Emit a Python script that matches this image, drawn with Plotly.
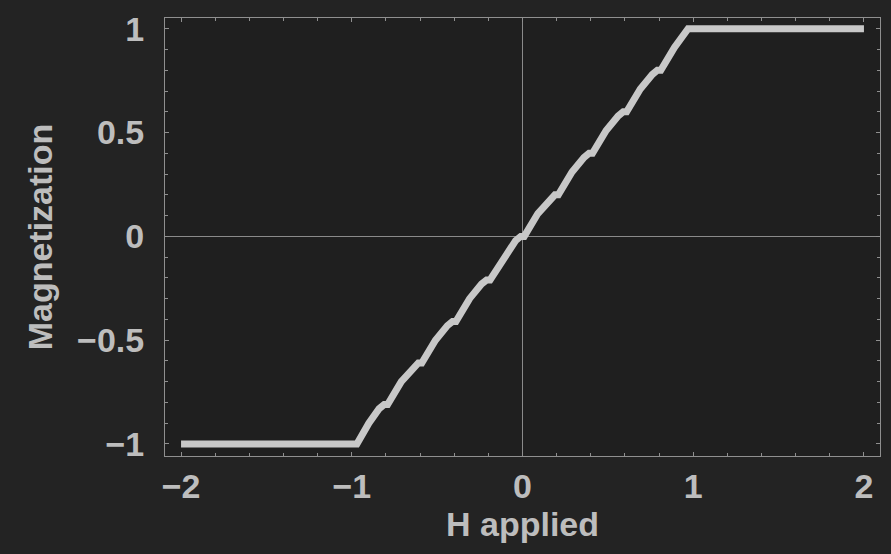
import plotly.graph_objects as go

# Applied field H and magnetization M
H = [-2.0, -0.97, -0.90, -0.84, -0.81, -0.79, -0.71, -0.64, -0.61, -0.59,
     -0.51, -0.44, -0.41, -0.39, -0.31, -0.24, -0.21, -0.19, -0.11, -0.04,
     -0.01, 0.01, 0.09, 0.16, 0.19, 0.21, 0.29, 0.36, 0.39, 0.41,
     0.49, 0.56, 0.59, 0.61, 0.69, 0.76, 0.79, 0.81, 0.89, 0.97, 2.0]
M = [-1.0, -1.0, -0.90, -0.83, -0.81, -0.81, -0.70, -0.63, -0.61, -0.61,
     -0.50, -0.43, -0.41, -0.41, -0.30, -0.23, -0.21, -0.21, -0.10, -0.02,
     0.0, 0.0, 0.11, 0.18, 0.20, 0.20, 0.31, 0.38, 0.40, 0.40,
     0.51, 0.58, 0.60, 0.60, 0.71, 0.78, 0.80, 0.80, 0.91, 1.0, 1.0]

x_ticks = [-2, -1, 0, 1, 2]
x_labels = ["\u22122", "\u22121", "0", "1", "2"]
y_ticks = [-1, -0.5, 0, 0.5, 1]
y_labels = ["\u22121", "\u22120.5", "0", "0.5", "1"]

FG = "#bdbdbd"
FONT = "Liberation Sans"

fig = go.Figure()
fig.add_trace(go.Scatter(
    x=H, y=M, mode="lines",
    line=dict(color="#c8c8c8", width=7),
    hoverinfo="skip", showlegend=False,
))

axis_common = dict(
    showgrid=False,
    zeroline=True, zerolinecolor="#8a8a8a", zerolinewidth=1,
    showline=True, linecolor="#8f8f8f", linewidth=1, mirror="allticks",
    ticks="inside", ticklen=4, tickcolor="#8f8f8f", tickwidth=1,
    tickfont=dict(family=FONT, size=34, color=FG, weight="bold"),
)

fig.update_xaxes(
    range=[-2.094, 2.094],
    tickvals=x_ticks, ticktext=x_labels,
    minor=dict(dtick=0.2, ticks="inside", ticklen=3, tickcolor="#8f8f8f", showgrid=False),
    title=dict(text="H applied", font=dict(family=FONT, size=34, color=FG, weight="bold"), standoff=7),
    ticklabelstandoff=0,
    **axis_common,
)
fig.update_yaxes(
    range=[-1.058, 1.052],
    tickvals=y_ticks, ticktext=y_labels,
    minor=dict(dtick=0.1, ticks="inside", ticklen=3, tickcolor="#8f8f8f", showgrid=False),
    title=dict(text="Magnetization", font=dict(family=FONT, size=34, color=FG, weight="bold"), standoff=14),
    ticklabelstandoff=13,
    **axis_common,
)

fig.update_layout(
    width=891, height=554,
    margin=dict(l=165, r=10, t=16, b=98),
    paper_bgcolor="#232323",
    plot_bgcolor="#1f1f1f",
    font=dict(family=FONT, color=FG),
)

fig.write_html(
    "out.html",
    config={"displayModeBar": False},
    post_script="document.body.style.margin='0';document.body.style.overflow='hidden';",
)
